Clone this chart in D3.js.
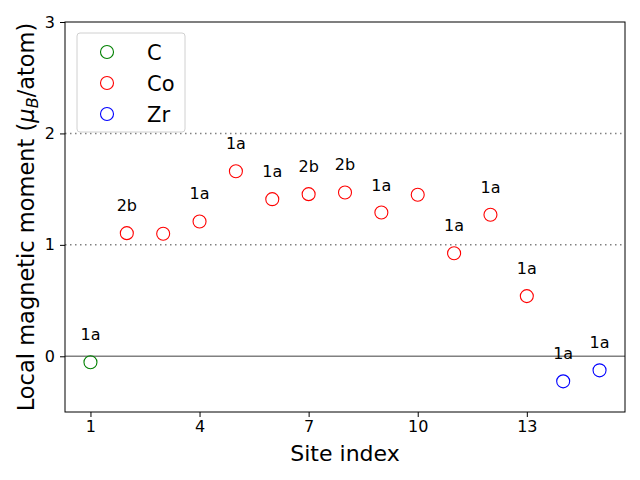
<!DOCTYPE html>
<html><head><meta charset="utf-8">
<script src="https://cdn.jsdelivr.net/npm/d3@7"></script>
<style>body{margin:0;background:#fff}text{font-family:"DejaVu Sans",sans-serif}</style>
</head><body>
<svg id="c" width="640" height="480"></svg>
<script>
const siteIndex = [1,2,3,4,5,6,7,8,9,10,11,12,13,14,15];
const elements = ["C","Co","Co","Co","Co","Co","Co","Co","Co","Co","Co","Co","Co","Zr","Zr"];
const moments = [-0.054,1.105,1.10,1.21,1.66,1.41,1.455,1.47,1.29,1.45,0.925,1.27,0.54,-0.225,-0.126];
const wyckoff = ["1a","2b","","1a","1a","1a","2b","2b","1a","","1a","1a","1a","1a","1a"];
const legendNames = ["C","Co","Zr"];
const legendColors = ["green","red","blue"];
const xTicks = [1,4,7,10,13];
const yTicks = [0,1,2,3];
const guideLines = [1,2];

const svg = d3.select("#c");
const L=65,R=625,T=22,B=412;
const x = d3.scaleLinear().domain([0.3,15.7]).range([L,R]);
const y = d3.scaleLinear().domain([-0.5,3]).range([B,T]);
const color = d3.scaleOrdinal().domain(legendNames).range(legendColors);

svg.selectAll(".g").data(guideLines).enter().append("line")
  .attr("x1",L).attr("x2",R).attr("y1",d=>y(d)).attr("y2",d=>y(d))
  .attr("stroke","#808080").attr("stroke-width",1.5).attr("stroke-dasharray","1.5,3.5");
svg.append("line").attr("x1",L).attr("x2",R).attr("y1",y(0)).attr("y2",y(0))
  .attr("stroke","#808080").attr("stroke-width",1.5);

const xa = svg.append("g").attr("transform",`translate(0,${B})`)
  .call(d3.axisBottom(x).tickValues(xTicks).tickFormat(d3.format("d")).tickSize(5).tickPadding(4));
const ya = svg.append("g").attr("transform",`translate(${L},0)`)
  .call(d3.axisLeft(y).tickValues(yTicks).tickFormat(d3.format("d")).tickSize(5).tickPadding(5));
[xa,ya].forEach(a=>{a.select(".domain").remove();a.selectAll("text").attr("font-size",16).attr("fill","#000").attr("font-family","DejaVu Sans");a.selectAll("line").attr("stroke","#000").attr("stroke-width",1);});
svg.append("rect").attr("x",L).attr("y",T).attr("width",R-L).attr("height",B-T)
  .attr("fill","none").attr("stroke","#000").attr("stroke-width",1);

svg.selectAll(".p").data(siteIndex).enter().append("circle")
  .attr("cx",(d)=>x(d)).attr("cy",(d,i)=>y(moments[i])).attr("r",6.5)
  .attr("fill","none").attr("stroke",(d,i)=>color(elements[i])).attr("stroke-width",1.1);
svg.selectAll(".lab").data(siteIndex).enter().append("text")
  .attr("x",d=>x(d)).attr("y",(d,i)=>y(moments[i])-22)
  .attr("text-anchor","middle").attr("font-size",16).text((d,i)=>wyckoff[i]);

svg.append("text").attr("x",(L+R)/2).attr("y",461).attr("text-anchor","middle")
  .attr("font-size",22).text("Site index");
const yl = svg.append("text").attr("transform",`translate(34,${(T+B)/2}) rotate(-90)`)
  .attr("text-anchor","middle").attr("font-size",22.5);
yl.append("tspan").text("Local magnetic moment (");
yl.append("tspan").attr("font-style","italic").text("μ");
yl.append("tspan").attr("font-style","italic").attr("font-size",16).attr("dy",4).text("B");
yl.append("tspan").attr("dy",-4).text("/atom)");

const lg = svg.append("g");
lg.append("rect").attr("x",77).attr("y",33).attr("width",108).attr("height",99).attr("rx",3)
  .attr("fill","#fff").attr("fill-opacity",0.8).attr("stroke","#d0d0d0").attr("stroke-width",1);
legendNames.forEach((n,i)=>{
  lg.append("circle").attr("cx",107).attr("cy",52+i*31).attr("r",6.5).attr("fill","none")
    .attr("stroke",color(n)).attr("stroke-width",1.1);
  lg.append("text").attr("x",147).attr("y",52+i*31+7.5).attr("font-size",21).text(n);
});
</script>
</body></html>
